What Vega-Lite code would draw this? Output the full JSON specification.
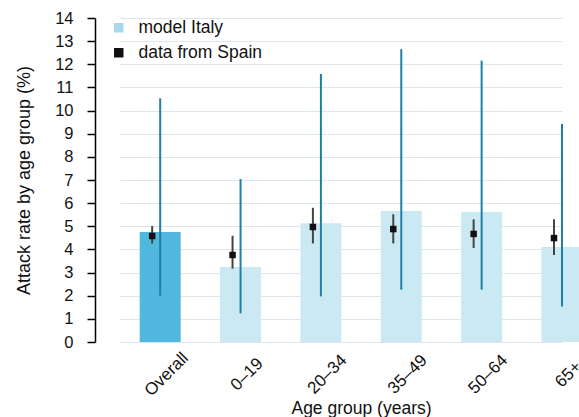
{
  "$schema": "https://vega.github.io/schema/vega-lite/v6.json",
  "width": 442,
  "height": 324,
  "autosize": {"type": "none"},
  "padding": {"left": 120, "top": 18, "right": 17, "bottom": 75},
  "background": "white",
  "config": {
    "view": {"stroke": null},
    "font": "Liberation Sans",
    "axis": {"labelFont": "Liberation Sans", "titleFont": "Liberation Sans", "labelColor": "#111", "titleColor": "#111", "titleFontWeight": "normal"},
    "axisY": {"tickCount": 28},
    "legend": {"labelFont": "Liberation Sans"}
  },
  "data": {
    "values": [
      {"group": "Overall", "model": 4.75, "mlo": 2.0, "mhi": 10.53, "data": 4.58, "dlo": 4.25, "dhi": 5.01},
      {"group": "0–19", "model": 3.24, "mlo": 1.24, "mhi": 7.04, "data": 3.76, "dlo": 3.17, "dhi": 4.59},
      {"group": "20–34", "model": 5.13, "mlo": 1.97, "mhi": 11.58, "data": 4.97, "dlo": 4.26, "dhi": 5.8},
      {"group": "35–49", "model": 5.66, "mlo": 2.26, "mhi": 12.65, "data": 4.88, "dlo": 4.26, "dhi": 5.52},
      {"group": "50–64", "model": 5.62, "mlo": 2.26, "mhi": 12.16, "data": 4.67, "dlo": 4.06, "dhi": 5.3},
      {"group": "65+", "model": 4.11, "mlo": 1.53, "mhi": 9.42, "data": 4.49, "dlo": 3.76, "dhi": 5.3}
    ]
  },
  "encoding": {
    "x": {
      "field": "group", "type": "nominal", "sort": null,
      "scale": {"type": "point", "padding": 0.25, "align": 1},
      "axis": {
        "title": "Age group (years)", "titleFontSize": 17.5, "titleX": 241, "titleY": 57, "titleBaseline": "top", "titleAnchor": "middle", "titleAlign": "center",
        "labelAngle": -45, "labelAlign": "center", "labelBaseline": "middle", "labelFontSize": 17, "labelOffset": 6, "labelPadding": 32, "labelOverlap": false,
        "domain": false, "ticks": false, "grid": false
      }
    }
  },
  "layer": [
    {
      "mark": {"type": "bar", "width": 41},
      "encoding": {
        "y": {
          "field": "model", "type": "quantitative",
          "scale": {"domain": [0, 14], "nice": false},
          "axis": {
            "title": "Attack rate by age group (%)", "titleFontSize": 18, "titlePadding": 21,
            "tickCount": 28,
            "values": [0, 0.5, 1, 1.5, 2, 2.5, 3, 3.5, 4, 4.5, 5, 5.5, 6, 6.5, 7, 7.5, 8, 8.5, 9, 9.5, 10, 10.5, 11, 11.5, 12, 12.5, 13, 13.5, 14],
            "labelExpr": "datum.value % 1 === 0 ? format(datum.value, 'd') : ''",
            "labelOverlap": false,
            "labelFontSize": 16.5, "labelPadding": 14,
            "offset": 25,
            "domainColor": "#000", "domainWidth": 1.5,
            "tickColor": "#000", "tickWidth": 1.5, "tickSize": 8,
            "tickOpacity": {"condition": {"test": "datum.value % 1 === 0", "value": 1}, "value": 0},
            "grid": true,
            "gridColor": {"condition": {"test": "datum.value % 1 === 0", "value": "#dde6ec"}, "value": "#eff3f5"},
            "gridWidth": 1.2
          }
        },
        "color": {"condition": {"test": "datum.group === 'Overall'", "value": "#4fb8dc"}, "value": "#cbe9f3"}
      }
    },
    {
      "mark": {"type": "rule", "strokeWidth": 2, "color": "#1d80a6"},
      "encoding": {
        "y": {
          "field": "mlo", "type": "quantitative",
          "axis": {
            "title": "Attack rate by age group (%)", "titleFontSize": 18, "titlePadding": 21,
            "tickCount": 28,
            "values": [0, 0.5, 1, 1.5, 2, 2.5, 3, 3.5, 4, 4.5, 5, 5.5, 6, 6.5, 7, 7.5, 8, 8.5, 9, 9.5, 10, 10.5, 11, 11.5, 12, 12.5, 13, 13.5, 14],
            "labelExpr": "datum.value % 1 === 0 ? format(datum.value, 'd') : ''",
            "labelOverlap": false,
            "labelFontSize": 16.5, "labelPadding": 14,
            "offset": 25,
            "domainColor": "#000", "domainWidth": 1.5,
            "tickColor": "#000", "tickWidth": 1.5, "tickSize": 8,
            "tickOpacity": {"condition": {"test": "datum.value % 1 === 0", "value": 1}, "value": 0},
            "grid": true,
            "gridColor": {"condition": {"test": "datum.value % 1 === 0", "value": "#dde6ec"}, "value": "#eff3f5"},
            "gridWidth": 1.2
          }
        },
        "y2": {"field": "mhi"}
      }
    },
    {
      "mark": {"type": "rule", "strokeWidth": 2, "color": "#444444", "xOffset": -8},
      "encoding": {
        "y": {
          "field": "dlo", "type": "quantitative",
          "axis": {
            "title": "Attack rate by age group (%)", "titleFontSize": 18, "titlePadding": 21,
            "tickCount": 28,
            "values": [0, 0.5, 1, 1.5, 2, 2.5, 3, 3.5, 4, 4.5, 5, 5.5, 6, 6.5, 7, 7.5, 8, 8.5, 9, 9.5, 10, 10.5, 11, 11.5, 12, 12.5, 13, 13.5, 14],
            "labelExpr": "datum.value % 1 === 0 ? format(datum.value, 'd') : ''",
            "labelOverlap": false,
            "labelFontSize": 16.5, "labelPadding": 14,
            "offset": 25,
            "domainColor": "#000", "domainWidth": 1.5,
            "tickColor": "#000", "tickWidth": 1.5, "tickSize": 8,
            "tickOpacity": {"condition": {"test": "datum.value % 1 === 0", "value": 1}, "value": 0},
            "grid": true,
            "gridColor": {"condition": {"test": "datum.value % 1 === 0", "value": "#dde6ec"}, "value": "#eff3f5"},
            "gridWidth": 1.2
          }
        },
        "y2": {"field": "dhi"}
      }
    },
    {
      "mark": {"type": "point", "shape": "square", "filled": true, "size": 42, "opacity": 1, "xOffset": -8},
      "encoding": {
        "y": {
          "field": "data", "type": "quantitative",
          "axis": {
            "title": "Attack rate by age group (%)", "titleFontSize": 18, "titlePadding": 21,
            "tickCount": 28,
            "values": [0, 0.5, 1, 1.5, 2, 2.5, 3, 3.5, 4, 4.5, 5, 5.5, 6, 6.5, 7, 7.5, 8, 8.5, 9, 9.5, 10, 10.5, 11, 11.5, 12, 12.5, 13, 13.5, 14],
            "labelExpr": "datum.value % 1 === 0 ? format(datum.value, 'd') : ''",
            "labelOverlap": false,
            "labelFontSize": 16.5, "labelPadding": 14,
            "offset": 25,
            "domainColor": "#000", "domainWidth": 1.5,
            "tickColor": "#000", "tickWidth": 1.5, "tickSize": 8,
            "tickOpacity": {"condition": {"test": "datum.value % 1 === 0", "value": 1}, "value": 0},
            "grid": true,
            "gridColor": {"condition": {"test": "datum.value % 1 === 0", "value": "#dde6ec"}, "value": "#eff3f5"},
            "gridWidth": 1.2
          }
        },
        "color": {
          "datum": "data from Spain",
          "scale": {"domain": ["model Italy", "data from Spain"], "range": ["#a6d9ec", "#111111"]},
          "legend": {
            "title": null, "orient": "none", "legendX": -10, "legendY": 1, "padding": 0,
            "symbolType": "square", "symbolSize": 90, "symbolStrokeWidth": 0, "symbolOpacity": 1,
            "labelFontSize": 17.5, "labelColor": "#111", "labelOffset": 11, "rowPadding": 6
          }
        }
      }
    }
  ]
}
